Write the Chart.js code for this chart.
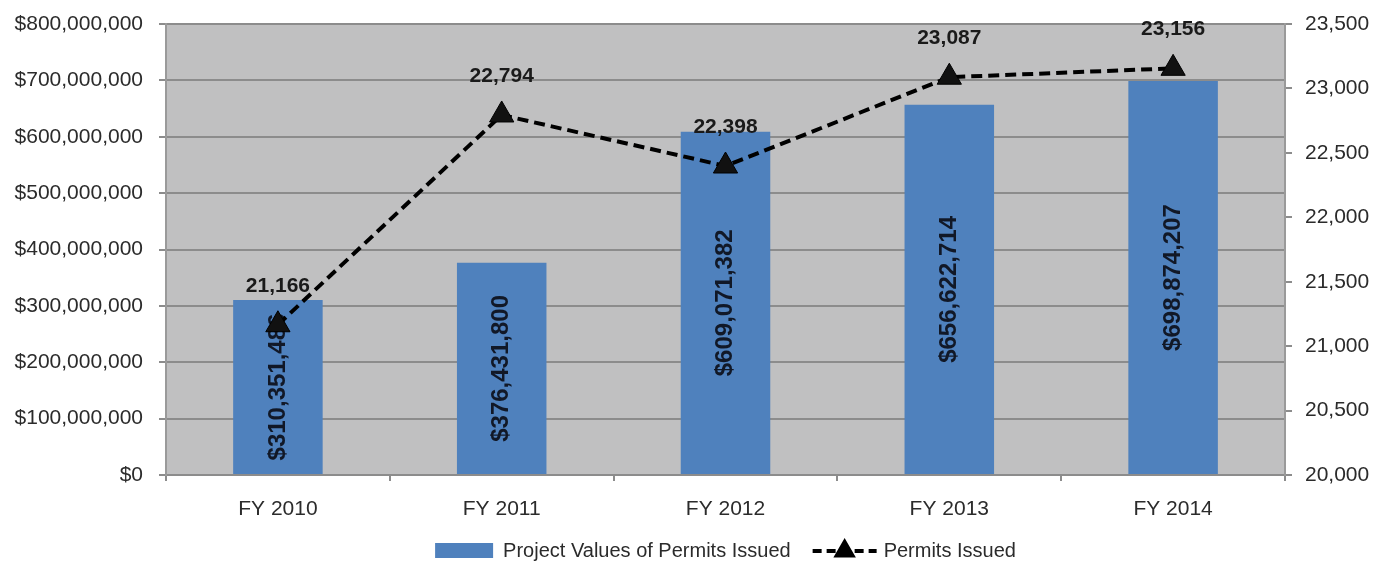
<!DOCTYPE html>
<html>
<head>
<meta charset="utf-8">
<script src="https://cdn.jsdelivr.net/npm/chart.js@4.4.1/dist/chart.umd.min.js"></script>
<style>
  html, body { margin: 0; padding: 0; background: #fff; }
  #wrap { width: 1390px; height: 567px; }
</style>
</head>
<body>
<div id="wrap"><canvas id="permitChart"></canvas></div>
<script>
const categories = ['FY 2010', 'FY 2011', 'FY 2012', 'FY 2013', 'FY 2014'];
const projectValues = [310351486, 376431800, 609071382, 656622714, 698874207];
const permitsIssued = [21166, 22794, 22398, 23087, 23156];

const BAR_COLOR = '#4f81bd';
const GRID_COLOR = '#8c8c8c';
const FONT = "'Liberation Sans', Arial, sans-serif";

Chart.defaults.font.family = FONT;
Chart.defaults.color = '#2b2b2b';

const money = v => '$' + Number(v).toLocaleString('en-US');
const count = v => Number(v).toLocaleString('en-US');

// grey plot background
const plotBackground = {
    id: 'plotBackground',
    beforeDraw(chart) {
        const { ctx, chartArea: a } = chart;
        ctx.save();
        ctx.fillStyle = '#c0c0c1';
        ctx.fillRect(a.left, a.top, a.right - a.left, a.bottom - a.top);
        ctx.restore();
    }
};

// value labels: rotated ones inside the bars, point labels above the line
const valueLabels = {
    id: 'valueLabels',
    afterDatasetDraw(chart, args) {
        if (args.index !== 0) return;
        const ctx = chart.ctx;
        const meta = chart.getDatasetMeta(0);
        ctx.save();
        ctx.font = 'bold 24px ' + FONT;
        ctx.fillStyle = '#111827';
        ctx.textAlign = 'center';
        ctx.textBaseline = 'middle';
        meta.data.forEach((bar, i) => {
            const cy = (bar.y + bar.base) / 2;
            ctx.save();
            ctx.translate(bar.x, cy);
            ctx.rotate(-Math.PI / 2);
            ctx.fillText(money(projectValues[i]), 0, 0);
            ctx.restore();
        });
        ctx.restore();
    },
    afterDatasetsDraw(chart) {
        const ctx = chart.ctx;
        const meta = chart.getDatasetMeta(1);
        ctx.save();
        ctx.font = 'bold 21px ' + FONT;
        ctx.fillStyle = '#1a1a1a';
        ctx.textAlign = 'center';
        ctx.textBaseline = 'middle';
        meta.data.forEach((pt, i) => {
            ctx.fillText(count(permitsIssued[i]), pt.x, pt.y - 39);
        });
        ctx.restore();
    }
};

// legend row under the axis labels
const bottomLegend = {
    id: 'bottomLegend',
    afterDraw(chart) {
        const { ctx, chartArea: a } = chart;
        const y = 551;
        const t1 = 'Project Values of Permits Issued';
        const t2 = 'Permits Issued';
        ctx.save();
        ctx.font = '20px ' + FONT;
        ctx.textBaseline = 'middle';
        const w1 = ctx.measureText(t1).width;
        const w2 = ctx.measureText(t2).width;
        const total = 58 + 10 + w1 + 22 + 64 + 7 + w2;
        let x = (a.left + a.right) / 2 - total / 2;

        ctx.fillStyle = BAR_COLOR;
        ctx.fillRect(x, y - 8, 58, 15);
        x += 68;
        ctx.fillStyle = '#2b2b2b';
        ctx.fillText(t1, x, y);
        x += w1 + 22;

        ctx.strokeStyle = '#000';
        ctx.lineWidth = 4;
        ctx.setLineDash([9, 5]);
        ctx.beginPath();
        ctx.moveTo(x, y);
        ctx.lineTo(x + 64, y);
        ctx.stroke();
        ctx.setLineDash([]);
        ctx.fillStyle = '#000';
        Chart.helpers.drawPoint(ctx, { pointStyle: 'triangle', radius: 9, rotation: 0, borderWidth: 1 }, x + 32, y);
        x += 71;
        ctx.fillStyle = '#2b2b2b';
        ctx.fillText(t2, x, y);
        ctx.restore();
    }
};

// y axes: fixed width, no extra top/bottom padding for the end labels
function pinWidth(width) {
    return scale => {
        scale.width = width;
        scale.paddingTop = 0;
        scale.paddingBottom = 0;
    };
}

new Chart(document.getElementById('permitChart'), {
    data: {
        labels: categories,
        datasets: [
            {
                type: 'bar',
                label: 'Project Values of Permits Issued',
                data: projectValues,
                backgroundColor: BAR_COLOR,
                barPercentage: 0.4,
                categoryPercentage: 1,
                yAxisID: 'y',
                order: 2
            },
            {
                type: 'line',
                label: 'Permits Issued',
                data: permitsIssued,
                borderColor: '#000',
                borderWidth: 4,
                borderDash: [11, 6],
                pointStyle: 'triangle',
                pointRadius: 14,
                pointBackgroundColor: '#111',
                pointBorderColor: '#000',
                pointBorderWidth: 1,
                tension: 0,
                fill: false,
                yAxisID: 'y1',
                order: 1
            }
        ]
    },
    options: {
        responsive: true,
        maintainAspectRatio: false,
        animation: false,
        layout: { padding: { top: 24, left: 0, right: 0, bottom: 0 } },
        plugins: {
            legend: { display: false },
            tooltip: { enabled: false }
        },
        scales: {
            x: {
                grid: { offset: true, drawOnChartArea: false, tickLength: 6, color: GRID_COLOR, lineWidth: 2 },
                border: { color: GRID_COLOR, width: 2 },
                ticks: { font: { size: 21 }, padding: 16 },
                afterFit(scale) { scale.height = 92; }
            },
            y: {
                position: 'left',
                min: 0,
                max: 800000000,
                ticks: { stepSize: 100000000, callback: money, font: { size: 21 }, padding: 16 },
                grid: { color: GRID_COLOR, lineWidth: 2, tickLength: 7 },
                border: { color: '#9a9a9a', width: 2 },
                afterFit: pinWidth(166)
            },
            y1: {
                position: 'right',
                min: 20000,
                max: 23500,
                ticks: { stepSize: 500, callback: count, font: { size: 21 }, padding: 13 },
                grid: { drawOnChartArea: false, color: GRID_COLOR, lineWidth: 2, tickLength: 7 },
                border: { color: '#9a9a9a', width: 2 },
                afterFit: pinWidth(105)
            }
        }
    },
    plugins: [plotBackground, valueLabels, bottomLegend]
});
</script>
</body>
</html>
